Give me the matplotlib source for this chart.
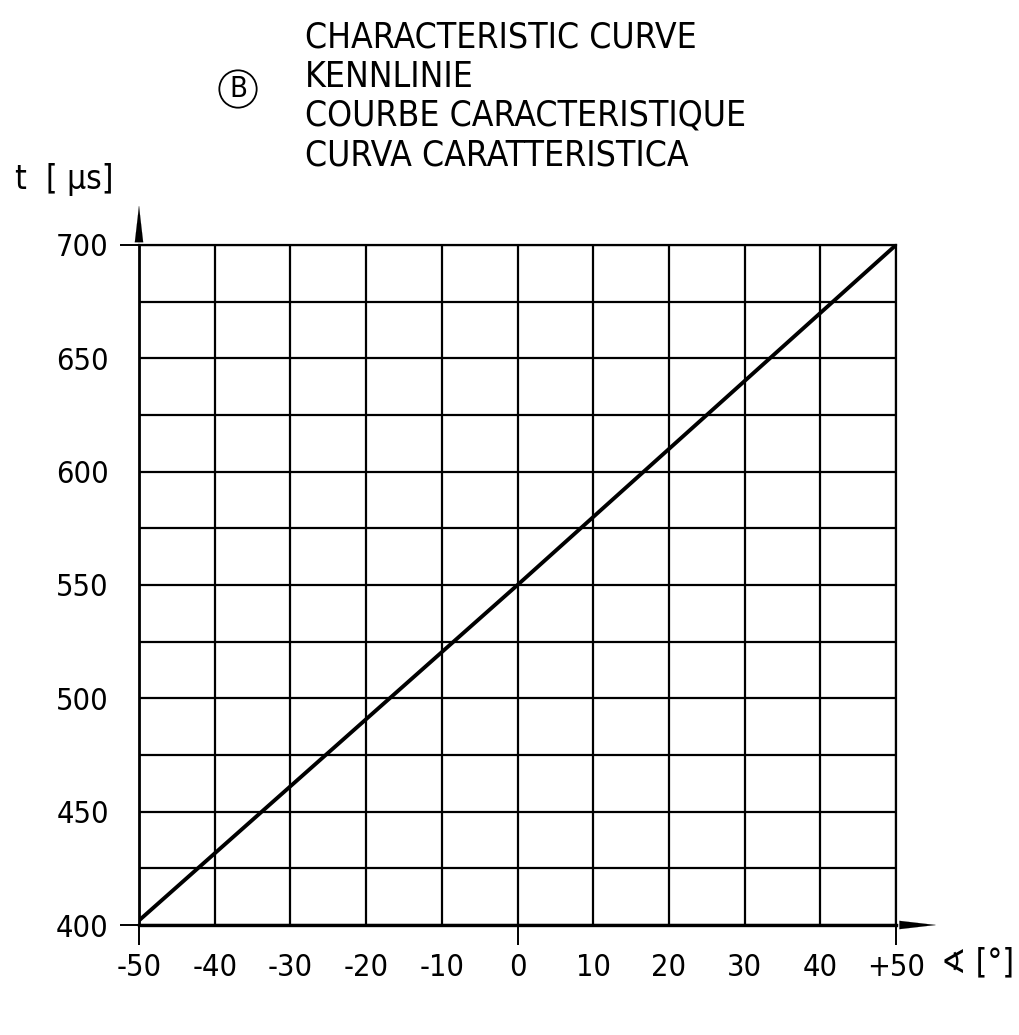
import matplotlib.pyplot as plt
import numpy as np
from matplotlib import font_manager

# data
angle = [-50, 0, 50]
time_us = [402, 550, 700]
x_ticks = [-50, -40, -30, -20, -10, 0, 10, 20, 30, 40, 50]
x_labels = ['-50', '-40', '-30', '-20', '-10', '0', '10', '20', '30', '40', '+50']
y_ticks = [400, 450, 500, 550, 600, 650, 700]
y_minor = [425, 475, 525, 575, 625, 675]
title_lines = ['CHARACTERISTIC CURVE', 'KENNLINIE',
               'COURBE CARACTERISTIQUE', 'CURVA CARATTERISTICA']

# pick a narrow face if one is installed (the drawing uses a condensed CAD font)
family, stretch, scale = 'DejaVu Sans', 'normal', 0.82
for f in font_manager.fontManager.ttflist:
    if f.name == 'Liberation Sans Narrow':
        family, stretch, scale = f.name, 'normal', 1.0
        break
    if f.name == 'DejaVu Sans' and 'Condensed' in f.fname and 'Bold' not in f.fname \
            and 'Oblique' not in f.fname:
        family, stretch, scale = 'DejaVu Sans', 'condensed', 1.0
plt.rcParams['font.family'] = [family, 'DejaVu Sans']
plt.rcParams['font.stretch'] = stretch

fig = plt.figure(figsize=(10.19, 10.35), dpi=100)
ax = fig.add_axes([139/1019, 1-925/1035, 757/1019, 680/1035])
ax.set_xlim(-50, 50)
ax.set_ylim(400, 700)

tick_fs = 22 * scale
ax.set_xticks(x_ticks)
ax.set_xticklabels(x_labels, fontsize=tick_fs)
ax.set_yticks(y_ticks)
ax.set_yticks(y_minor, minor=True)
ax.set_yticklabels([str(v) for v in y_ticks], fontsize=tick_fs)
ax.grid(True, which='both', color='black', lw=1.6)
ax.set_axisbelow(True)

for s in ['top', 'right']:
    ax.spines[s].set_linewidth(1.6)
ax.spines['left'].set_linewidth(2)
ax.spines['bottom'].set_linewidth(2.4)

ax.tick_params(axis='x', length=14.4, width=1.4, pad=6, direction='out')
ax.tick_params(axis='y', length=13.7, width=1.4, pad=8, direction='out')
ax.tick_params(which='minor', length=0)
for t, v in zip(ax.xaxis.get_major_ticks(), x_ticks):
    t.tick1line.set_visible(v in (-50, 0, 50))
for t, v in zip(ax.yaxis.get_major_ticks(), y_ticks):
    t.tick1line.set_visible(v in (400, 700))

ax.plot(angle, time_us, color='black', lw=2.8, solid_capstyle='round', zorder=5)

# axis arrows
ax.annotate('', xy=(0, 1.058), xytext=(0, 1.0), xycoords='axes fraction',
            arrowprops=dict(arrowstyle='-|>,head_length=2.6,head_width=0.3',
                            color='black', lw=0.1, shrinkA=0, shrinkB=0))
ax.annotate('', xy=(1.053, 0), xytext=(1.0, 0), xycoords='axes fraction',
            arrowprops=dict(arrowstyle='-|>,head_length=2.6,head_width=0.3',
                            color='black', lw=0.1, shrinkA=0, shrinkB=0))

# axis labels
fig.text(15/1019, 1-180/1035, 't  [ µs]', fontsize=24 * scale, va='center', ha='left')
fig.text(1014/1019, 1-963/1035, '∢ [°]', fontsize=24 * scale, va='center', ha='right')

# titles
for i, line in enumerate(title_lines):
    fig.text(305/1019, 1-(38 + i*39)/1035, line, fontsize=25.5 * scale,
             va='center', ha='left')
fig.text(238/1019, 1-89/1035, 'B', fontsize=21 * scale, va='center', ha='center',
         bbox=dict(boxstyle='circle,pad=0.16', fc='none', ec='black', lw=1.3))

fig.savefig('out.png', dpi=100)
